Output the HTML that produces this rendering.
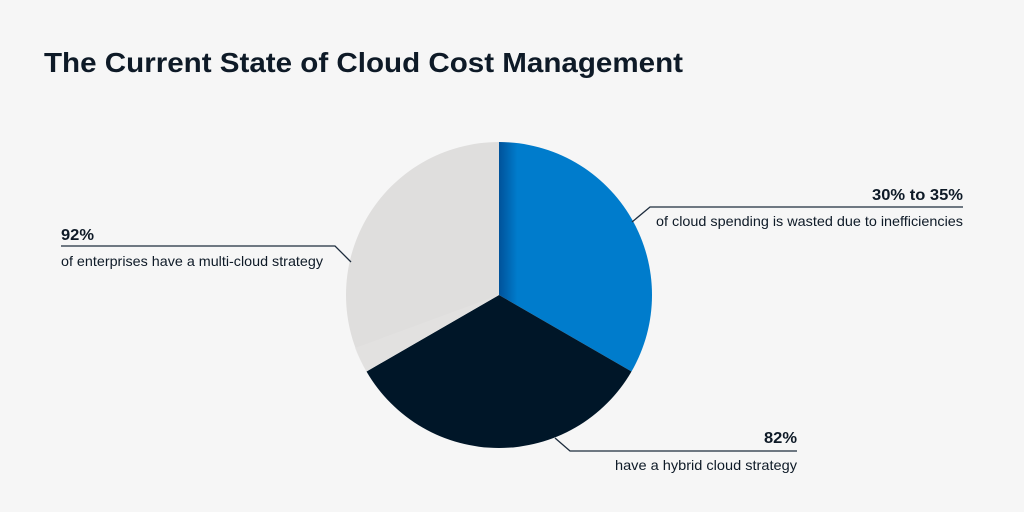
<!DOCTYPE html>
<html><head><meta charset="utf-8"><style>
html,body{margin:0;padding:0;background:#f6f6f6;}
svg{display:block}
text{font-family:"Liberation Sans",sans-serif;fill:#0e1a27}
</style></head><body>
<svg width="1024" height="512" viewBox="0 0 1024 512">
<defs>
<linearGradient id="bl" x1="0" y1="0" x2="1" y2="0">
<stop offset="0" stop-color="#00529a"/><stop offset="0.12" stop-color="#007ccc"/><stop offset="1" stop-color="#007ccc"/>
</linearGradient>
</defs>
<rect width="1024" height="512" fill="#f6f6f6"/>
<text x="44" y="72" font-size="28" font-weight="bold" textLength="639" lengthAdjust="spacingAndGlyphs">The Current State of Cloud Cost Management</text>
<path d="M499,295 L499,142 A153,153 0 0 1 631.5,371.5 Z" fill="url(#bl)"/>
<path d="M499,295 L631.5,371.5 A153,153 0 0 1 366.5,371.5 Z" fill="#001628"/>
<path d="M499,295 L366.5,371.5 A153,153 0 0 1 499,142 Z" fill="#dfdedd"/>
<path d="M499,295 L366.5,371.5 A153,153 0 0 1 355,348 Z" fill="#e4e3e2" opacity="0.6"/>
<polyline points="61,246 335,246 351,262" fill="none" stroke="#1d2c3d" stroke-width="1.3"/>
<polyline points="632,222 650,207 963,207" fill="none" stroke="#1d2c3d" stroke-width="1.3"/>
<polyline points="555,438 570,451 797,451" fill="none" stroke="#1d2c3d" stroke-width="1.3"/>
<text x="61" y="240" font-size="15.5" font-weight="bold" textLength="33" lengthAdjust="spacingAndGlyphs">92%</text>
<text x="61" y="266" font-size="14" textLength="262" lengthAdjust="spacingAndGlyphs">of enterprises have a multi-cloud strategy</text>
<text x="963" y="200" font-size="15.5" font-weight="bold" text-anchor="end" textLength="91" lengthAdjust="spacingAndGlyphs">30% to 35%</text>
<text x="963" y="226" font-size="14" text-anchor="end" textLength="307" lengthAdjust="spacingAndGlyphs">of cloud spending is wasted due to inefficiencies</text>
<text x="797" y="443" font-size="15.5" font-weight="bold" text-anchor="end" textLength="33" lengthAdjust="spacingAndGlyphs">82%</text>
<text x="797" y="470" font-size="14" text-anchor="end" textLength="182" lengthAdjust="spacingAndGlyphs">have a hybrid cloud strategy</text>
</svg>
</body></html>
